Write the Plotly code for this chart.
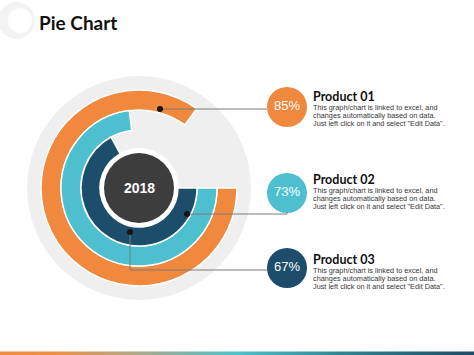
import plotly.graph_objects as go

# ---------------- data ----------------
title_text = "Pie Chart"
year_label = "2018"
products = ["Product 01", "Product 02", "Product 03"]
values = [85, 73, 67]
desc_lines = [
    "This graph/chart is linked to excel, and",
    "changes automatically based on data.",
    'Just left click on it and select "Edit Data".',
]
colors = ["#F0883D", "#4DBFCF", "#1C4D6A"]

# ---------------- layout constants (pixels) ----------------
W, H = 474, 355
cx, cy = 139, 188
bg_r = 112
ring_inner = [78, 58, 39]
ring_outer = [98, 78, 58]
badge_x = 287
badge_y = [107, 193, 268]
title_y = [96, 179, 259]
line_dy = [0, 8, 16]
desc_y0 = [107, 190, 270]
text_x = 311

fig = go.Figure()

# rings (barpolar) drawn from values
for v, c, ri, ro in zip(values, colors, ring_inner, ring_outer):
    fig.add_trace(go.Barpolar(
        r=[ro - ri], base=[ri], theta=[v * 3.6 / 2], width=[v * 3.6],
        marker=dict(color=c, line=dict(color="white", width=1.5)),
        hoverinfo="skip", showlegend=False, subplot="polar",
    ))

# percentage badges
fig.add_trace(go.Scatter(
    x=[badge_x] * len(values), y=badge_y, mode="markers+text",
    marker=dict(size=40, color=colors, line=dict(width=0)),
    text=[f"{v}%" for v in values], textposition="middle center",
    textfont=dict(family="Liberation Sans, Arial", size=13, color="white"),
    hoverinfo="skip", showlegend=False, xaxis="x", yaxis="y",
))

# bottom gradient strip
fig.add_trace(go.Scatter(
    x=[0, W, W, 0, 0], y=[351.5, 351.5, 356, 356, 351.5], mode="lines",
    fill="toself", line=dict(width=0),
    fillgradient=dict(type="horizontal", colorscale=[
        [0, "#F08A3E"], [0.12, "#EE9046"], [0.3, "#A9A98C"],
        [0.5, "#4EC2CA"], [0.72, "#2F8592"], [1, "#1E4B66"]]),
    hoverinfo="skip", showlegend=False,
))

shapes = []
# top-left decoration
shapes.append(dict(type="circle", xref="x", yref="y", x0=-2, x1=35, y0=2, y1=39,
                   fillcolor="#F3F3F3", line=dict(width=0), layer="below"))
shapes.append(dict(type="circle", xref="x", yref="y", x0=8, x1=32, y0=8, y1=33,
                   fillcolor="white", line=dict(width=0), layer="below"))
# background disc, white ring, center disc
for r, col in [(bg_r, "#EFEFEF"), (40, "white"), (35, "#3D3D3D")]:
    shapes.append(dict(type="circle", xref="x", yref="y",
                       x0=cx - r, x1=cx + r, y0=cy - r, y1=cy + r,
                       fillcolor=col, line=dict(width=0), layer="below"))

# connectors
conn = [
    "M160,109 L267,109",
    "M187,214 L287,214 L287,212",
    "M130,232 L130,270 L267,270",
]
for p in conn:
    shapes.append(dict(type="path", xref="x", yref="y", path=p,
                       line=dict(color="#7A7A7A", width=1), layer="above"))
for (dx, dy) in [(160, 109), (187, 214), (130, 232)]:
    shapes.append(dict(type="circle", xref="x", yref="y",
                       x0=dx - 3, x1=dx + 3, y0=dy - 3, y1=dy + 3,
                       fillcolor="#151515", line=dict(width=0), layer="above"))

annotations = [
    dict(text=title_text, x=37, y=22, xref="x", yref="y", xanchor="left", yanchor="middle",
         showarrow=False, font=dict(family="Lato", size=19, color="#111111", weight="bold")),
    dict(text=year_label, x=cx, y=cy, xref="x", yref="y", xanchor="center", yanchor="middle",
         showarrow=False, font=dict(family="Liberation Sans, Arial", size=14, color="white", weight="bold")),
]
for i, name in enumerate(products):
    annotations.append(dict(text=name, x=text_x, y=title_y[i], xref="x", yref="y",
                            xanchor="left", yanchor="middle", showarrow=False,
                            font=dict(family="Lato", size=12.5, color="#111111", weight="bold")))
    for j, line in enumerate(desc_lines):
        annotations.append(dict(text=line, x=text_x, y=desc_y0[i] + line_dy[j], xref="x", yref="y",
                                xanchor="left", yanchor="middle", showarrow=False,
                                font=dict(family="Liberation Sans, Arial", size=7.3, color="#363636")))

fig.update_layout(
    width=W, height=H, margin=dict(l=0, r=0, t=0, b=0),
    paper_bgcolor="white", plot_bgcolor="rgba(0,0,0,0)",
    xaxis=dict(range=[0, W], domain=[0, 1], visible=False, fixedrange=True),
    yaxis=dict(range=[H, 0], domain=[0, 1], visible=False, fixedrange=True),
    polar=dict(
        domain=dict(x=[(cx - bg_r) / W, (cx + bg_r) / W],
                    y=[(H - cy - bg_r) / H, (H - cy + bg_r) / H]),
        bgcolor="rgba(0,0,0,0)",
        radialaxis=dict(range=[0, bg_r], visible=False),
        angularaxis=dict(direction="clockwise", rotation=0, visible=False),
        barmode="overlay",
    ),
    shapes=shapes, annotations=annotations, showlegend=False,
)

fig.write_html("out.html", config={"displayModeBar": False},
               post_script="document.body.style.margin='0';document.body.style.overflow='hidden';")
